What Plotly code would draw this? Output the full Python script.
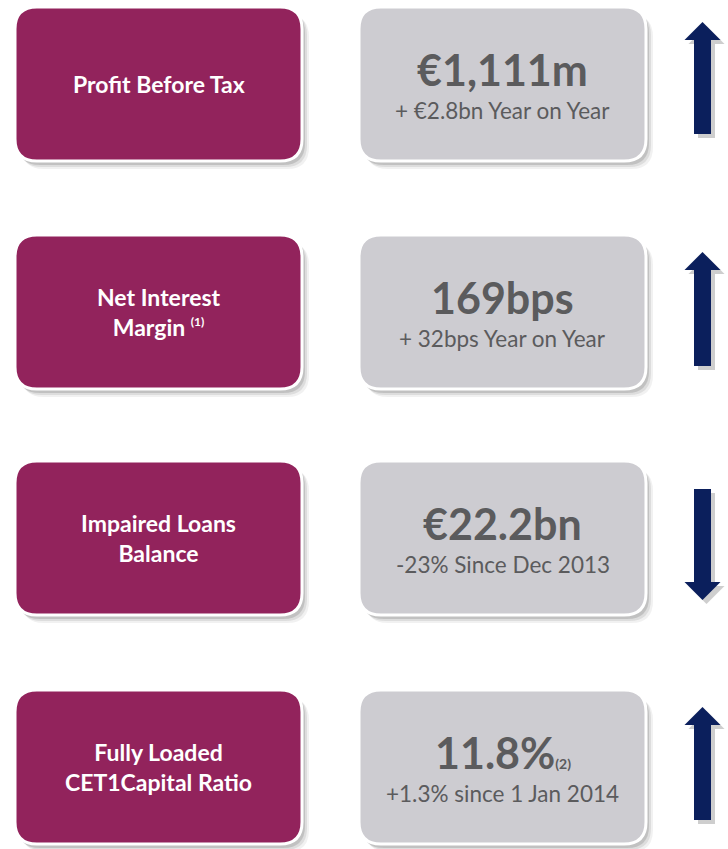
import plotly.graph_objects as go

# ---- content ----
labels = ["Profit Before Tax", "Net Interest<br>Margin <sup><span style='font-size:12px'>(1)</span></sup>",
          "Impaired Loans<br>Balance", "Fully Loaded<br>CET1Capital Ratio"]
values = ["€1,111m", "169bps", "€22.2bn",
          "11.8%<span style='font-size:14px'>(2)</span>"]
changes = ["+ €2.8bn Year on Year", "+ 32bps Year on Year",
           "-23% Since Dec 2013", "+1.3% since 1 Jan 2014"]
directions = ["up", "up", "down", "up"]

# ---- layout geometry ----
W, H = 728, 849
row_tops = [7, 235, 461, 690]
box_h = 154
left_box = (15, 302)
right_box = (359, 646)
radius = 22

PURPLE = "#92235C"
GREY = "#CDCCD1"
TEXT_GREY = "#5B5B5D"
NAVY = "#0B1F5C"
FONT = "Lato"


def rrect(x0, y0, x1, y1, r):
    return (f"M {x0+r},{y0} L {x1-r},{y0} Q {x1},{y0} {x1},{y0+r} "
            f"L {x1},{y1-r} Q {x1},{y1} {x1-r},{y1} L {x0+r},{y1} "
            f"Q {x0},{y1} {x0},{y1-r} L {x0},{y0+r} Q {x0},{y0} {x0+r},{y0} Z")


def arrow(cx, top, bottom, up, shaft=17, head=36, head_h=18):
    sx0, sx1 = cx - shaft / 2, cx + shaft / 2
    hx0, hx1 = cx - head / 2, cx + head / 2
    if up:
        return (f"M {cx},{top} L {hx1},{top+head_h} L {sx1},{top+head_h} "
                f"L {sx1},{bottom} L {sx0},{bottom} L {sx0},{top+head_h} "
                f"L {hx0},{top+head_h} Z")
    return (f"M {cx},{bottom} L {hx1},{bottom-head_h} L {sx1},{bottom-head_h} "
            f"L {sx1},{top} L {sx0},{top} L {sx0},{bottom-head_h} "
            f"L {hx0},{bottom-head_h} Z")


shapes = []
annotations = []
arrow_spans = [(22, 134), (252, 366), (489, 600), (707, 820)]

for i, top in enumerate(row_tops):
    bot = top + box_h
    for (x0, x1), fill in ((left_box, PURPLE), (right_box, GREY)):
        for k, a in ((7, 0.07), (5, 0.11), (3, 0.17)):
            shapes.append(dict(type="path", path=rrect(x0 + k, top + k + 1, x1 + k, bot + k + 1, radius),
                               fillcolor=f"rgba(60,60,60,{a})", line=dict(width=0), layer="below"))
        shapes.append(dict(type="path", path=rrect(x0, top, x1, bot, radius),
                           fillcolor=fill, line=dict(color="white", width=3), layer="above"))
    at, ab = arrow_spans[i]
    up = directions[i] == "up"
    shapes.append(dict(type="path", path=arrow(706.5, at + 4, ab + 4, up),
                       fillcolor="rgba(60,60,60,0.25)", line=dict(width=0)))
    shapes.append(dict(type="path", path=arrow(702.5, at, ab, up),
                       fillcolor=NAVY, line=dict(width=0)))

    lc = (left_box[0] + left_box[1]) / 2
    rc = (right_box[0] + right_box[1]) / 2
    annotations.append(dict(x=lc, y=top + box_h / 2, text=f"<b>{labels[i]}</b>",
                            showarrow=False, xanchor="center", yanchor="middle",
                            font=dict(family=FONT, size=23, color="white")))
    annotations.append(dict(x=rc, y=top + 62, text=f"<b>{values[i]}</b>",
                            showarrow=False, xanchor="center", yanchor="middle",
                            font=dict(family=FONT, size=43, color=TEXT_GREY)))
    annotations.append(dict(x=rc, y=top + 103, text=changes[i],
                            showarrow=False, xanchor="center", yanchor="middle",
                            font=dict(family=FONT, size=22.5, color=TEXT_GREY)))

fig = go.Figure()
fig.update_layout(
    width=W, height=H,
    margin=dict(l=0, r=0, t=0, b=0),
    paper_bgcolor="white", plot_bgcolor="white",
    xaxis=dict(range=[0, W], visible=False, fixedrange=True),
    yaxis=dict(range=[H, 0], visible=False, fixedrange=True),
    shapes=shapes, annotations=annotations, showlegend=False,
)
fig.write_html("out.html", config=dict(displayModeBar=False),
               post_script="document.body.style.margin='0';document.body.style.overflow='hidden';")
